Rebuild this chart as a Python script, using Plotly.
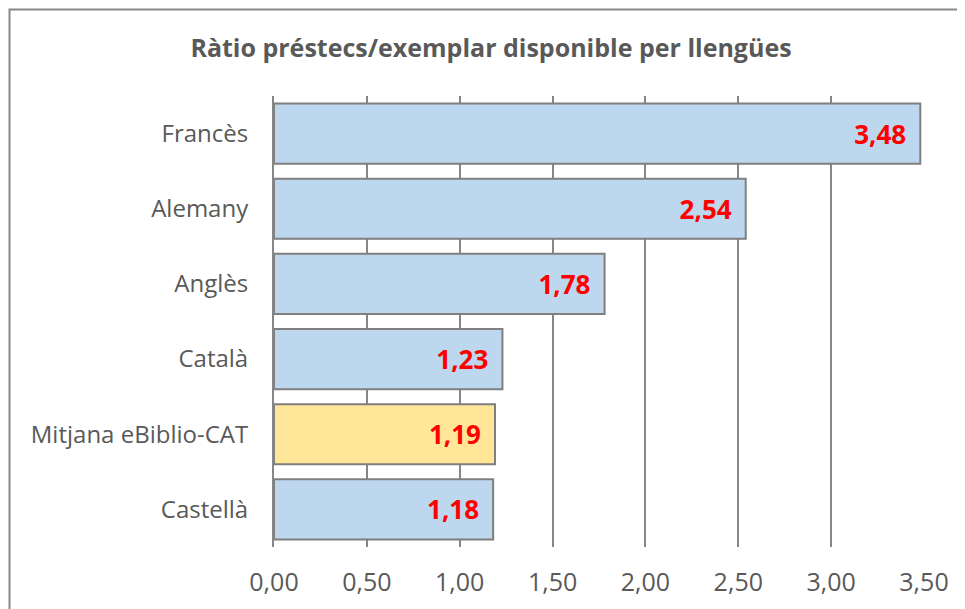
import plotly.graph_objects as go

categories = ["Francès", "Alemany", "Anglès", "Català", "Mitjana eBiblio-CAT", "Castellà"]
values = [3.48, 2.54, 1.78, 1.23, 1.19, 1.18]
bar_colors = ["#BDD7EE", "#BDD7EE", "#BDD7EE", "#BDD7EE", "#FFE699", "#BDD7EE"]
tick_vals = [0, 0.5, 1.0, 1.5, 2.0, 2.5, 3.0, 3.5]
title_text = "Ràtio préstecs/exemplar disponible per llengües"

# figure sits 8px inside the page (default body margin)
OFF = 8
W, H = 965 - OFF, 609 - OFF
ML, MR, MT, MB = 266, 41, 88, 62
pw, ph = W - ML - MR, H - MT - MB

FONT = "Open Sans"
GRID = "#868686"

fig = go.Figure(go.Bar(
    x=values,
    y=categories,
    orientation="h",
    marker=dict(color=bar_colors, line=dict(color="#7F7F7F", width=2)),
    width=0.8,
    texttemplate="<b>%{x:.2f}</b>\u00a0\u2009",
    textposition="inside",
    insidetextanchor="end",
    textfont=dict(family=FONT, size=26, color="#FF0000"),
    cliponaxis=False,
))

def px_to_paper_x(p):
    return (p - OFF - ML) / pw

def px_to_paper_y(p):
    return (H - MB - (p - OFF)) / ph

fig.add_shape(type="rect", xref="paper", yref="paper",
              x0=px_to_paper_x(9.5), x1=px_to_paper_x(990),
              y0=px_to_paper_y(640), y1=px_to_paper_y(9.5),
              line=dict(color="#878787", width=2), fillcolor="rgba(0,0,0,0)", layer="below")

fig.update_layout(
    width=W, height=H,
    margin=dict(l=ML, r=MR, t=MT, b=MB, autoexpand=False),
    paper_bgcolor="white", plot_bgcolor="white",
    separators=",.",
    showlegend=False,
    title=dict(text="<b>" + title_text + "</b>", x=(491 - OFF) / W, xanchor="center", xref="container",
               y=1 - (48 - OFF) / H, yanchor="middle", yref="container",
               font=dict(family=FONT, size=25, color="#595959")),
    xaxis=dict(range=[0, 3.5], tickvals=tick_vals, tickformat=".2f",
               showgrid=True, gridcolor=GRID, gridwidth=2,
               ticks="",
               zeroline=False, showline=False, automargin=False,
               tickfont=dict(family=FONT, size=25, color="#595959"),
               ticklabelstandoff=18),
    yaxis=dict(categoryorder="array", categoryarray=categories, autorange="reversed",
               showline=True, linecolor=GRID, linewidth=2, automargin=False,
               showgrid=False, ticks="", ticklabelstandoff=19,
               tickfont=dict(family=FONT, size=24, color="#595959")),
    bargap=0.2,
)

fig.write_html("out.html")
